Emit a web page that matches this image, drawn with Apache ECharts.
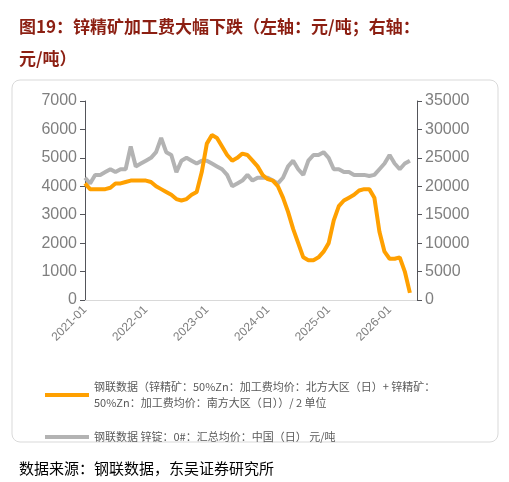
<!DOCTYPE html><html><head><meta charset="utf-8"><script src="https://cdn.jsdelivr.net/npm/echarts@6/dist/echarts.min.js"></script>
<style>body{margin:0}#c{width:509px;height:482px}</style></head><body><div id="c"></div><script>
const startYear=2021;
const tcValues=[4100,3900,3900,3900,3900,3950,4100,4100,4150,4200,4200,4200,
4200,4150,4000,3900,3800,3700,3550,3500,3550,3700,3800,4500,
5500,5800,5700,5400,5100,4900,5000,5150,5100,4900,4700,4400,
4250,4200,4000,3600,3100,2500,2000,1500,1400,1400,1500,1700,
2000,2800,3300,3500,3600,3700,3850,3900,3900,3600,2400,1700,
1450,1450,1500,1000,250];
const zincValues=[21500,20500,22000,22000,22500,23000,22500,23000,23000,27000,23500,24000,
24500,25000,26000,28500,26000,25500,22500,24500,25000,24500,24000,24500,
24500,24000,23500,23000,22000,20000,20500,21000,22000,21000,21500,21500,
21500,21000,20500,21500,23500,24500,23000,22000,24500,25500,25500,26000,
25000,23000,23000,22500,22500,22000,22000,22000,21800,22000,23000,24000,
25500,24000,23000,24000,24500];
const xTicks=[2021,2022,2023,2024,2025,2026];
const toPts=a=>a.map((v,i)=>[startYear+i/12,v]);
const name1='钢联数据（锌精矿：50%Zn：加工费均价：北方大区（日）+ 锌精矿：50%Zn：加工费均价：南方大区（日））/ 2 单位';
const name2='钢联数据 锌锭：0#：汇总均价：中国（日） 元/吨';
const c=echarts.init(document.getElementById('c'));
const gray='#7f7f7f';
c.setOption({
animation:false,
title:[{text:'图19：锌精矿加工费大幅下跌（左轴：元/吨；右轴：\n元/吨）',left:14,top:6,textStyle:{fontFamily:'Noto Sans CJK SC',fontSize:17,fontWeight:'bold',color:'#8c1f12',lineHeight:32}},
{text:'数据来源：钢联数据，东吴证券研究所',left:14,top:456,textStyle:{fontFamily:'Noto Sans CJK SC',fontSize:15,fontWeight:'normal',color:'#000'}}],
graphic:[{type:'rect',shape:{x:12,y:80,width:486,height:362,r:8},style:{fill:'none',stroke:'#d9d9d9',lineWidth:1}}],
grid:{left:85,right:92,top:101,bottom:182},
legend:{orient:'vertical',left:40,top:374,itemWidth:44,itemHeight:4,itemGap:18,
 icon:'rect',textStyle:{fontSize:11,color:'#595959',fontFamily:'Noto Sans CJK SC',lineHeight:16},
 formatter:n=>n===name1?'钢联数据（锌精矿：50%Zn：加工费均价：北方大区（日）+ 锌精矿：\n50%Zn：加工费均价：南方大区（日））/ 2 单位':n,
 data:[name1,name2]},
xAxis:{type:'value',min:2021,max:2026.45,interval:1,splitLine:{show:false},
 axisLine:{lineStyle:{color:'#d9d9d9'}},axisTick:{show:false},
 axisLabel:{rotate:45,color:gray,fontSize:12,formatter:v=>xTicks.includes(v)?v+'-01':'',showMaxLabel:false}},
yAxis:[{type:'value',min:0,max:7000,interval:1000,splitLine:{show:false},axisLabel:{color:gray,fontSize:16,formatter:v=>String(v)}},
{type:'value',min:0,max:35000,interval:5000,splitLine:{show:false},axisLabel:{color:gray,fontSize:16,formatter:v=>String(v)}}],
series:[{name:name2,type:'line',yAxisIndex:1,data:toPts(zincValues),symbol:'none',lineStyle:{color:'#b3b3b3',width:4},itemStyle:{color:'#b3b3b3'}},
{name:name1,type:'line',yAxisIndex:0,data:toPts(tcValues),symbol:'none',lineStyle:{color:'#ffa000',width:4},itemStyle:{color:'#ffa000'}}]
});
</script></body></html>
